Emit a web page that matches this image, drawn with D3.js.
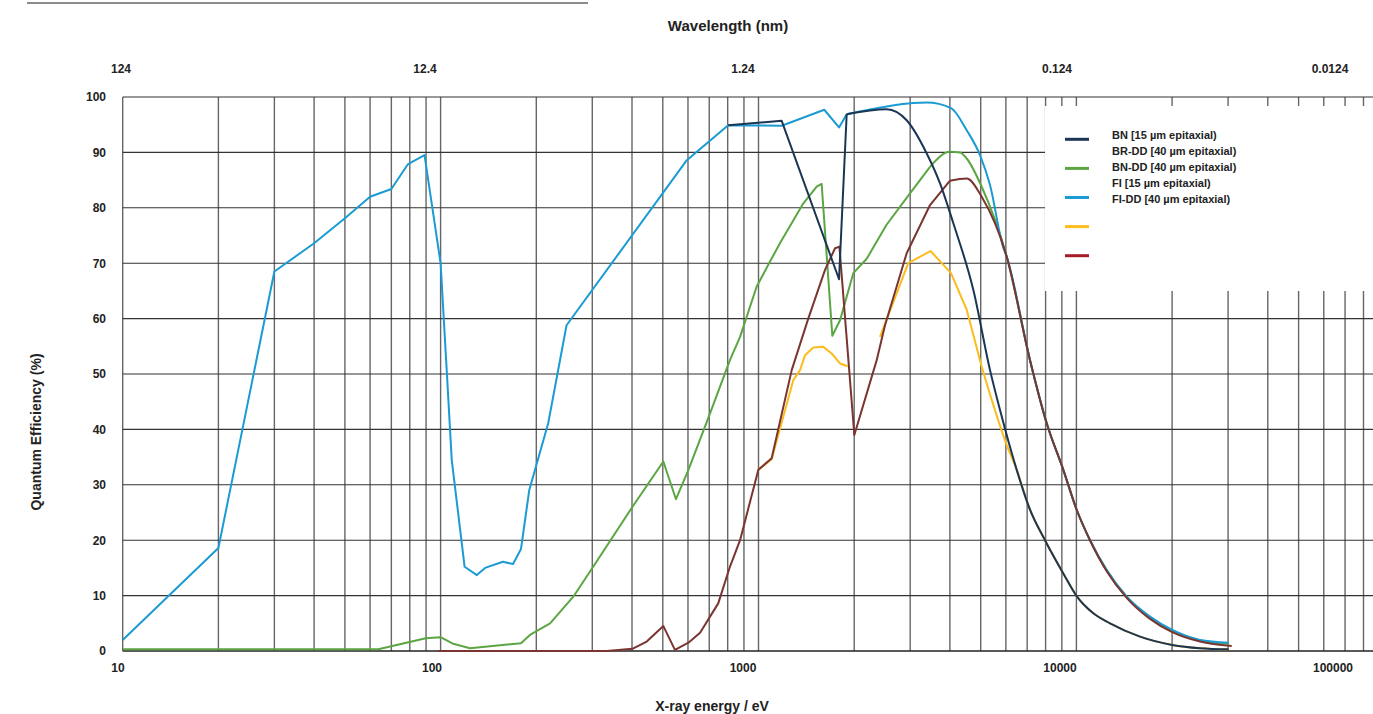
<!DOCTYPE html>
<html>
<head>
<meta charset="utf-8">
<script src="https://cdn.jsdelivr.net/npm/d3@7"></script>
<style>
  html, body { margin: 0; padding: 0; background: #fff; }
  svg { display: block; font-family: "Liberation Sans", Arial, Helvetica, sans-serif; }
</style>
</head>
<body>
<svg id="chart" width="1373" height="714"></svg>
<script>
// ---------------- data ----------------
const energyTicks = [10, 100, 1000, 10000, 100000];
const energyTickLabels = ["10", "100", "1000", "10000", "100000"];
const wavelengthTickLabels = ["124", "12.4", "1.24", "0.124", "0.0124"];
const qeTicks = [0, 10, 20, 30, 40, 50, 60, 70, 80, 90, 100];

const legendLabels = ["BN [15 µm epitaxial)", "BR-DD [40 µm epitaxial)", "BN-DD [40 µm epitaxial)", "FI [15 µm epitaxial)", "FI-DD [40 µm epitaxial)"];
const legendSwatchColors = ["#1b3655", "#5ba643", "#1b9bd3", "#fbbc1c", "#a51b2a"];

// [energy eV, QE %]
const seriesBlue = [
  [10,2.0],[20,18.6],[30,68.5],[40,73.6],[50,78.1],[60,82.0],[70,83.4],[79,87.9],[89,89.5],[100,70.0],
  [104.5,50.8],[108.4,34.5],[119,15.2],[130,13.7],[138,15.0],[157,16.1],[169,15.7],[179,18.4],[190,29.0],
  [218,41.1],[249,58.8],[595,88.6],[803,94.9],[1183,94.8],[1610,97.7],[1792,94.5],[1894,96.9],[2532,98.3],
  [3062,98.9],[3382,99.0],[4033,98.0],[4518,94.0],[4975,89.5],[5349,84.1],[5876,73.0],[6035,71.2],
  [7146,52.5],[8065,41.1],[9095,32.7],[10020,25.5],[11035,20.0],[12454,14.6],[14392,9.8],[17046,6.2],
  [20024,3.8],[24480,2.0],[30140,1.5]
];
const seriesGreen = [
  [10,0.3],[63.7,0.3],[89.8,2.3],[100,2.5],[109.6,1.3],[123.7,0.5],[179,1.4],[191,2.9],[221,5.0],[261.5,9.8],
  [302,15.2],[401,26.0],[502,34.2],[550,27.4],[602,32.7],[704,42.9],[813,52.5],[875,56.7],[987,65.8],
  [1087,70.3],[1168,73.6],[1384,80.8],[1524,83.8],[1580,84.3],[1707,56.9],[1805,59.7],[1987,68.2],
  [2190,70.8],[2525,76.9],[2996,82.6],[3464,87.4],[4003,90.1],[4304,90.0],[4518,88.9],[5036,83.8],
  [6035,71.2],[7146,52.5],[8065,41.1],[9095,32.7],[10020,25.5],[11035,20.0],[12454,14.6],[14392,9.8],
  [17046,6.1],[20024,3.7],[24480,1.9],[30140,1.3]
];
const seriesNavy = [
  [803,94.9],[1183,95.7],[1792,67.1],[1894,96.9],[2532,97.8],[2925,95.8],[3382,89.8],[3724,84.4],
  [4101,77.2],[4739,65.2],[5349,50.7],[5751,43.5],[6490,32.7],[7146,25.5],[7965,20.0],[9095,14.0],
  [10020,9.9],[11302,6.8],[12757,5.0],[15852,2.6],[20024,1.1],[24480,0.5],[30140,0.3]
];
const seriesBrown = [
  [98,0],[333,0],[401,0.4],[445,1.7],[502,4.5],[546,0.2],[602,1.5],[655,3.3],[747,8.6],[813,15.2],
  [875,20.0],[999,32.7],[1100,34.8],[1272,50.7],[1434,60.0],[1619,68.8],[1741,72.7],[1797,73.0],
  [2002,39.0],[2354,52.5],[2500,58.8],[2925,71.8],[3464,80.5],[4003,84.9],[4518,85.3],[5036,82.0],
  [6035,71.2],[7146,52.5],[8065,41.1],[9095,32.7],[10020,25.5],[11035,20.0],[12454,14.4],[14392,9.6],
  [17046,5.8],[20024,3.4],[24480,1.7],[30800,0.9]
];
// null marks the gap between the two yellow pieces
const seriesYellow = [
  [1000,32.7],[1100,34.6],[1287,48.9],[1351,50.7],[1401,53.4],[1487,54.8],[1599,54.9],[1699,53.7],
  [1805,51.9],[1907,51.4],[2100,null],
  [2411,56.7],[2959,70.0],[3477,72.2],[4033,68.2],[4518,61.6],[5036,51.3],[6035,37.2],[6490,32.7],
  [7146,25.5],[7965,20.0],[9095,14.0],[10020,9.9],[11302,6.8],[12757,5.0],[15852,2.6],[20024,1.1],
  [24480,0.5],[30140,0.3]
];

// energy from which each curve is drawn smoothed (the sharp edge region before it is drawn straight)
const seriesList = [
  {data: seriesGreen,  color: "#5ba643", smoothFrom: 3464},
  {data: seriesBlue,   color: "#1b9bd3", smoothFrom: 1894},
  {data: seriesYellow, color: "#fbbc1c", smoothFrom: 5036},
  {data: seriesBrown,  color: "#7a3530", smoothFrom: 4003},
  {data: seriesNavy,   color: "#1b3655", smoothFrom: 1894}
];

// ---------------- layout ----------------
const W = 1373, H = 714;
const svg = d3.select("#chart");

const x = d3.scaleLog().domain([10, 100000]).range([122.7, 1394.3]);
const y = d3.scaleLinear().domain([0, 100]).range([651, 97]);
const labelX = d3.scaleLog().domain([10, 100000]).range([118, 1374]);
const plotRight = W;

// top decorative rule
svg.append("line").attr("x1", 27).attr("x2", 588).attr("y1", 3).attr("y2", 3)
  .attr("stroke", "#666").attr("stroke-width", 1.5);

// clip
svg.append("defs").append("clipPath").attr("id", "clip")
  .append("rect").attr("x", x(10)).attr("y", y(100) - 2).attr("width", plotRight - x(10)).attr("height", y(0) - y(100) + 6);

const grid = svg.append("g");
const vTicks = x.ticks().filter(t => x(t) <= plotRight);
grid.selectAll("line.v").data(vTicks).join("line")
  .attr("class", "v")
  .attr("x1", d => x(d)).attr("x2", d => x(d))
  .attr("y1", y(100)).attr("y2", y(0))
  .attr("stroke", "#666").attr("stroke-width", 1.4);
grid.selectAll("line.h").data(qeTicks).join("line")
  .attr("class", "h")
  .attr("x1", x(10)).attr("x2", plotRight)
  .attr("y1", d => y(d)).attr("y2", d => y(d))
  .attr("stroke", d => d === 0 ? "#222" : "#333").attr("stroke-width", d => d === 0 ? 1.5 : 1.1);

// legend white panel (covers gridlines)
svg.append("rect").attr("x", 1045).attr("y", 106).attr("width", W - 1045).attr("height", 185).attr("fill", "#fff");

// y axis labels
const yAxis = d3.axisLeft(y).tickValues(qeTicks).tickSize(0).tickPadding(0).tickFormat(d3.format("d"));
const gy = svg.append("g").attr("transform", "translate(106,0)").call(yAxis);
gy.select(".domain").remove();
gy.selectAll("text").attr("font-size", 12).attr("font-weight", "bold").attr("fill", "#222")
  .attr("font-family", "Liberation Sans, Arial, sans-serif");

// bottom tick labels
svg.append("g").selectAll("text").data(energyTicks).join("text")
  .attr("x", (d, i) => Math.min(labelX(d) - (i === 2 ? 3 : 0), 1333))
  .attr("y", 672)
  .attr("text-anchor", "middle")
  .attr("font-size", 12).attr("font-weight", "bold").attr("fill", "#222")
  .text((d, i) => energyTickLabels[i]);

// top tick labels (wavelength)
svg.append("g").selectAll("text").data(energyTicks).join("text")
  .attr("x", (d, i) => Math.min(labelX(d) + (i === 0 ? 3 : (i === 1 ? -7 : -3)), 1330))
  .attr("y", 73)
  .attr("text-anchor", "middle")
  .attr("font-size", 12).attr("font-weight", "bold").attr("fill", "#222")
  .text((d, i) => wavelengthTickLabels[i]);

// axis titles
svg.append("text").attr("x", 728).attr("y", 31).attr("text-anchor", "middle")
  .attr("font-size", 15).attr("font-weight", "bold").attr("fill", "#222").text("Wavelength (nm)");
svg.append("text").attr("x", 712).attr("y", 711).attr("text-anchor", "middle")
  .attr("font-size", 14).attr("font-weight", "bold").attr("fill", "#222").text("X-ray energy / eV");
svg.append("text").attr("transform", "translate(41,432) rotate(-90)").attr("text-anchor", "middle")
  .attr("font-size", 14).attr("font-weight", "bold").attr("fill", "#222").text("Quantum Efficiency (%)");

// curves
const sharpLine = d3.line().defined(d => d[1] !== null).x(d => x(d[0])).y(d => y(d[1]));
const smoothLine = d3.line().defined(d => d[1] !== null).curve(d3.curveMonotoneX).x(d => x(d[0])).y(d => y(d[1]));
const curves = svg.append("g").attr("clip-path", "url(#clip)")
  .attr("fill", "none").attr("stroke-width", 2).attr("stroke-linejoin", "round");
seriesList.forEach(s => {
  curves.append("path")
    .attr("d", sharpLine(s.data.filter(d => d[0] <= s.smoothFrom)))
    .attr("stroke", s.color);
  curves.append("path")
    .attr("d", smoothLine(s.data.filter(d => d[0] >= s.smoothFrom)))
    .attr("stroke", s.color);
});

// legend
const lg = svg.append("g");
lg.selectAll("line").data(legendSwatchColors).join("line")
  .attr("x1", 1065).attr("x2", 1089)
  .attr("y1", (d, i) => 139.3 + i * 29.1).attr("y2", (d, i) => 139.3 + i * 29.1)
  .attr("stroke", d => d).attr("stroke-width", 3);
lg.selectAll("text").data(legendLabels).join("text")
  .attr("x", 1112)
  .attr("y", (d, i) => 139 + i * 16)
  .attr("font-size", 11).attr("font-weight", "bold").attr("fill", "#222")
  .text(d => d);
</script>
</body>
</html>
